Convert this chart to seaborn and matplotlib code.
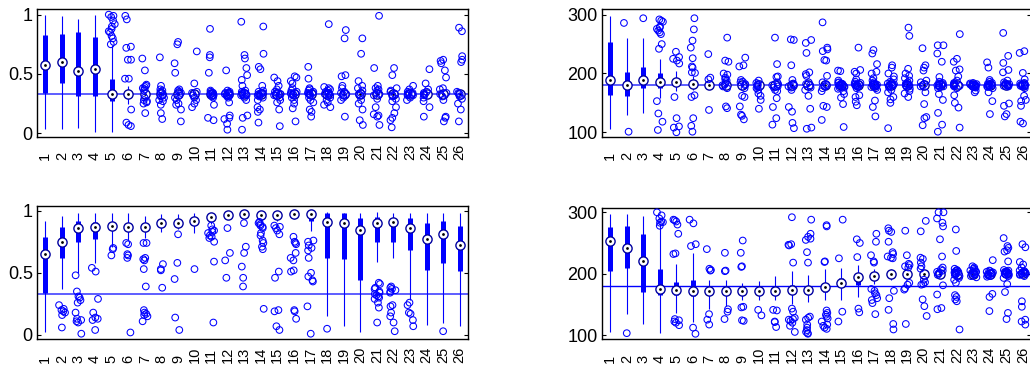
import numpy as np
import pandas as pd
import matplotlib
matplotlib.use("Agg")
import matplotlib.pyplot as plt
import seaborn as sns

sns.set_theme(style="white")
plt.rcParams["font.family"] = ["Liberation Sans", "DejaVu Sans"]

labels = ["1", "2", "3", "4", "5", "6", "7", "8", "9", "10", "11", "12", "13",
          "14", "15", "16", "17", "18", "19", "20", "21", "22", "23", "24", "25", "26"]

# ---- panel A (top left): fractions ----
a_ref = 0.333
a_med = [0.576, 0.600, 0.528, 0.542, 0.333, 0.333, 0.333, 0.333, 0.333, 0.333, 0.333, 0.333, 0.333,
         0.333, 0.333, 0.333, 0.333, 0.333, 0.333, 0.333, 0.333, 0.333, 0.333, 0.333, 0.333, 0.333]
a_q1 = [0.343, 0.427, 0.317, 0.310, 0.268, 0.320, 0.333, 0.333, 0.333, 0.333, 0.333, 0.333, 0.333,
        0.333, 0.333, 0.333, 0.333, 0.333, 0.333, 0.333, 0.333, 0.333, 0.333, 0.333, 0.333, 0.333]
a_q3 = [0.830, 0.840, 0.854, 0.810, 0.455, 0.350, 0.333, 0.333, 0.333, 0.333, 0.333, 0.333, 0.333,
        0.333, 0.333, 0.333, 0.333, 0.333, 0.333, 0.333, 0.333, 0.333, 0.333, 0.333, 0.333, 0.333]
a_lo = [0.034, 0.034, 0.045, 0.011, 0.014, 0.250, 0.333, 0.333, 0.333, 0.333, 0.333, 0.333, 0.333,
        0.333, 0.333, 0.333, 0.333, 0.333, 0.333, 0.333, 0.333, 0.333, 0.333, 0.333, 0.333, 0.333]
a_hi = [1.000, 0.990, 0.966, 1.000, 0.740, 0.400, 0.333, 0.333, 0.333, 0.333, 0.333, 0.333, 0.333,
        0.333, 0.333, 0.333, 0.333, 0.333, 0.333, 0.333, 0.333, 0.333, 0.333, 0.333, 0.333, 0.333]
a_out = [
    [], [], [], [],
    [1.0, 0.99, 0.98, 0.95, 0.92, 0.90, 0.88, 0.86, 0.85, 0.82, 0.80, 0.77, 0.75],
    [0.99, 0.96, 0.73, 0.72, 0.62, 0.62, 0.46, 0.46, 0.20, 0.09, 0.07, 0.06],
    [0.63, 0.53, 0.41, 0.40, 0.39, 0.38, 0.37, 0.36, 0.30, 0.28, 0.27, 0.26, 0.25, 0.17],
    [0.64, 0.40, 0.37, 0.36, 0.35, 0.34, 0.32, 0.31, 0.30, 0.28, 0.27, 0.24, 0.17, 0.12],
    [0.77, 0.75, 0.59, 0.51, 0.37, 0.36, 0.35, 0.34, 0.32, 0.30, 0.28, 0.25, 0.24, 0.20, 0.10],
    [0.69, 0.42, 0.35, 0.34, 0.32, 0.30, 0.28, 0.25, 0.22],
    [0.88, 0.66, 0.64, 0.51, 0.36, 0.35, 0.34, 0.34, 0.33, 0.33, 0.32, 0.32, 0.31, 0.30, 0.24, 0.13, 0.11],
    [0.53, 0.36, 0.35, 0.34, 0.34, 0.33, 0.33, 0.32, 0.32, 0.31, 0.30, 0.26, 0.15, 0.13, 0.12, 0.08, 0.03],
    [0.94, 0.66, 0.63, 0.55, 0.49, 0.45, 0.40, 0.36, 0.35, 0.34, 0.34, 0.33, 0.33, 0.32, 0.32, 0.30, 0.28, 0.15, 0.13, 0.03],
    [0.90, 0.67, 0.56, 0.54, 0.40, 0.36, 0.35, 0.34, 0.34, 0.33, 0.33, 0.32, 0.31, 0.30, 0.28, 0.22, 0.20, 0.18, 0.09],
    [0.47, 0.44, 0.40, 0.37, 0.35, 0.34, 0.34, 0.33, 0.33, 0.32, 0.32, 0.30, 0.28, 0.26, 0.20, 0.06],
    [0.48, 0.47, 0.44, 0.42, 0.38, 0.36, 0.35, 0.34, 0.34, 0.33, 0.33, 0.32, 0.30, 0.28, 0.25, 0.21, 0.10],
    [0.56, 0.46, 0.38, 0.37, 0.36, 0.35, 0.34, 0.34, 0.33, 0.33, 0.32, 0.30, 0.28, 0.26, 0.20, 0.18, 0.14],
    [0.92, 0.39, 0.38, 0.37, 0.36, 0.35, 0.34, 0.34, 0.33, 0.33, 0.32, 0.30, 0.28, 0.26, 0.24, 0.22],
    [0.87, 0.80, 0.49, 0.48, 0.40, 0.38, 0.35, 0.34, 0.33, 0.32, 0.30, 0.28, 0.14],
    [0.80, 0.67, 0.44, 0.40, 0.38, 0.36, 0.34, 0.33, 0.32, 0.28, 0.25, 0.20, 0.11, 0.07],
    [0.99, 0.55, 0.40, 0.38, 0.37, 0.36, 0.34, 0.33, 0.32, 0.29, 0.22, 0.16, 0.15, 0.14, 0.07],
    [0.55, 0.49, 0.38, 0.36, 0.35, 0.33, 0.32, 0.31, 0.29, 0.27, 0.22, 0.17, 0.13, 0.11, 0.05],
    [0.40, 0.37, 0.35, 0.34, 0.34, 0.33, 0.33, 0.32, 0.32, 0.30, 0.28],
    [0.54, 0.42, 0.37, 0.35, 0.34, 0.33, 0.33, 0.32, 0.30, 0.27, 0.22, 0.14],
    [0.62, 0.61, 0.59, 0.53, 0.47, 0.38, 0.37, 0.34, 0.33, 0.31, 0.28, 0.14, 0.13, 0.10],
    [0.89, 0.86, 0.65, 0.62, 0.60, 0.35, 0.34, 0.33, 0.31, 0.29, 0.25, 0.20, 0.10],
]

# ---- panel B (top right): durations ----
b_ref = 180
b_med = [189, 180, 189, 186, 185, 182, 181, 180, 180, 180, 180, 180, 180,
         180, 180, 180, 180, 180, 180, 180, 180, 180, 180, 180, 180, 180]
b_q1 = [164, 162, 175, 175, 180, 178, 180, 180, 180, 180, 180, 180, 180,
        180, 180, 180, 180, 180, 180, 180, 180, 180, 180, 180, 180, 180]
b_q3 = [254, 202, 211, 200, 192, 187, 182, 180, 180, 180, 180, 180, 180,
        180, 180, 180, 180, 180, 180, 180, 180, 180, 180, 180, 180, 180]
b_lo = [105, 129, 133, 159, 170, 172, 180, 180, 180, 180, 180, 180, 180,
        180, 180, 180, 180, 180, 180, 180, 180, 180, 180, 180, 180, 180]
b_hi = [298, 260, 260, 224, 205, 195, 183, 180, 180, 180, 180, 180, 180,
        180, 180, 180, 180, 180, 180, 180, 180, 180, 180, 180, 180, 180]
b_out = [
    [], [286, 101], [294],
    [292, 290, 288, 280, 278, 276, 273, 270, 267, 250, 242, 153, 132, 118, 104],
    [237, 228, 225, 222, 217, 160, 124, 110, 108, 100],
    [294, 275, 256, 244, 226, 212, 210, 202, 201, 163, 160, 124, 111, 101],
    [233, 193, 190, 138],
    [261, 222, 220, 200, 198, 193, 190, 188, 185, 182, 180, 178, 175, 144, 141],
    [227, 214, 212, 189, 186, 185, 182, 180, 175, 162, 160, 144, 130, 128, 122],
    [188, 184, 182, 180, 178, 175, 172, 166, 162, 155, 140],
    [261, 216, 195, 194, 185, 182, 180, 178, 176, 172, 170, 158, 143, 124, 113],
    [258, 257, 214, 189, 183, 181, 180, 178, 176, 172, 143, 135, 116, 107],
    [257, 252, 235, 202, 199, 196, 185, 182, 180, 176, 172, 162, 140, 108, 106],
    [287, 244, 241, 238, 223, 222, 196, 185, 182, 180, 178, 175, 170, 145, 143, 121],
    [205, 204, 188, 185, 184, 183, 182, 181, 180, 180, 179, 178, 177, 176, 174, 170, 165, 159, 148, 109],
    [244, 206, 203, 200, 190, 186, 184, 183, 182, 181, 180, 180, 179, 178, 177, 175, 163, 160, 152, 146],
    [240, 234, 216, 203, 200, 192, 188, 185, 183, 182, 181, 180, 180, 179, 178, 177, 175, 172, 154, 143, 127],
    [214, 210, 200, 195, 190, 186, 184, 183, 182, 181, 180, 180, 179, 178, 176, 172, 168, 160, 156, 150, 107],
    [278, 264, 208, 200, 196, 192, 188, 185, 183, 182, 181, 180, 179, 177, 174, 170, 166, 160],
    [243, 214, 210, 205, 188, 185, 182, 180, 178, 168, 148, 126, 124, 112],
    [248, 248, 234, 220, 194, 186, 184, 183, 182, 181, 180, 180, 179, 178, 177, 175, 165, 155, 133, 113, 101],
    [267, 225, 220, 207, 205, 195, 188, 184, 183, 182, 181, 180, 180, 179, 178, 175, 163, 150, 142, 108],
    [184, 183, 182, 181, 181, 180, 180, 179, 179, 178, 177, 176, 171, 168],
    [219, 210, 189, 186, 184, 183, 182, 181, 180, 180, 179, 178, 177, 175, 168, 153, 131],
    [269, 230, 218, 206, 202, 188, 185, 183, 182, 181, 180, 180, 179, 178, 149, 145, 131, 127],
    [238, 235, 201, 190, 184, 183, 182, 181, 180, 180, 179, 178, 175, 162, 155, 153, 145, 118, 115],
]

# ---- panel C (bottom left): fractions ----
c_ref = 0.333
c_med = [0.650, 0.745, 0.860, 0.870, 0.877, 0.870, 0.870, 0.900, 0.898, 0.920, 0.946, 0.965, 0.973,
         0.962, 0.967, 0.970, 0.970, 0.910, 0.898, 0.845, 0.898, 0.905, 0.860, 0.770, 0.810, 0.725]
c_q1 = [0.340, 0.617, 0.745, 0.770, 0.845, 0.850, 0.850, 0.880, 0.880, 0.900, 0.920, 0.950, 0.960,
        0.940, 0.950, 0.960, 0.920, 0.617, 0.610, 0.440, 0.750, 0.745, 0.680, 0.520, 0.580, 0.515]
c_q3 = [0.790, 0.866, 0.920, 0.910, 0.910, 0.900, 0.890, 0.920, 0.920, 0.940, 0.960, 0.975, 0.980,
        0.975, 0.975, 0.980, 0.980, 0.980, 0.980, 0.940, 0.950, 0.940, 0.940, 0.900, 0.920, 0.877]
c_lo = [0.020, 0.367, 0.500, 0.580, 0.710, 0.760, 0.780, 0.830, 0.850, 0.820, 0.890, 0.930, 0.940,
        0.920, 0.920, 0.930, 0.840, 0.150, 0.070, 0.020, 0.590, 0.620, 0.280, 0.080, 0.094, 0.070]
c_hi = [0.920, 0.957, 0.980, 0.980, 0.980, 0.980, 0.957, 0.970, 0.970, 0.980, 0.980, 0.990, 0.990,
        0.990, 0.990, 0.990, 0.990, 0.990, 0.985, 0.980, 0.990, 0.980, 0.985, 0.980, 0.980, 0.980]
c_out = [
    [],
    [0.24, 0.21, 0.20, 0.19, 0.18, 0.16, 0.06],
    [0.48, 0.35, 0.31, 0.30, 0.28, 0.26, 0.18, 0.13, 0.12, 0.11, 0.10, 0.01],
    [0.54, 0.51, 0.29, 0.18, 0.14, 0.13, 0.12, 0.04],
    [0.70, 0.69, 0.64],
    [0.74, 0.73, 0.65, 0.64, 0.62, 0.02],
    [0.74, 0.74, 0.62, 0.61, 0.60, 0.53, 0.39, 0.20, 0.18, 0.17, 0.16, 0.15, 0.11],
    [0.57, 0.53, 0.52, 0.38],
    [0.81, 0.58, 0.45, 0.14, 0.04],
    [0.53],
    [0.88, 0.85, 0.84, 0.83, 0.82, 0.80, 0.79, 0.78, 0.75, 0.59, 0.10],
    [0.86, 0.66, 0.60, 0.46],
    [0.90, 0.71, 0.66, 0.55, 0.46, 0.39],
    [0.91, 0.90, 0.89, 0.88, 0.87, 0.86, 0.82, 0.80, 0.76, 0.74, 0.71, 0.69, 0.21],
    [0.88, 0.87, 0.86, 0.84, 0.81, 0.51, 0.46, 0.20, 0.19, 0.07, 0.04],
    [0.79, 0.75, 0.74, 0.73, 0.66, 0.62, 0.60, 0.52, 0.51, 0.20, 0.19, 0.13],
    [0.76, 0.75, 0.72, 0.70, 0.68, 0.62, 0.50, 0.47, 0.44, 0.43, 0.23, 0.01],
    [0.05],
    [], [],
    [0.42, 0.41, 0.38, 0.37, 0.35, 0.34, 0.33, 0.32, 0.31, 0.30, 0.29, 0.26, 0.22, 0.10],
    [0.39, 0.38, 0.37, 0.36, 0.35, 0.34, 0.24, 0.23, 0.18, 0.15, 0.10, 0.03],
    [0.26, 0.24, 0.18, 0.17, 0.12, 0.07],
    [],
    [0.03],
    [],
]

# ---- panel D (bottom right): durations ----
d_ref = 180
d_med = [254, 242, 221, 175, 174, 172, 171, 172, 172, 172, 172, 173, 174,
         179, 184, 195, 196, 200, 200, 200, 200, 200, 200, 200, 201, 201]
d_q1 = [204, 209, 170, 165, 165, 164, 165, 166, 168, 168, 168, 168, 168,
        170, 178, 182, 190, 195, 195, 200, 200, 200, 200, 200, 201, 201]
d_q3 = [276, 277, 264, 208, 186, 189, 176, 176, 175, 175, 175, 182, 178,
        181, 193, 197, 200, 202, 202, 200, 200, 200, 200, 200, 201, 201]
d_lo = [105, 134, 118, 103, 136, 121, 143, 147, 157, 157, 157, 151, 154,
        157, 157, 162, 183, 190, 195, 198, 198, 198, 198, 198, 199, 199]
d_hi = [298, 298, 294, 281, 216, 233, 189, 189, 185, 188, 196, 205, 197,
        207, 210, 214, 208, 208, 205, 203, 203, 203, 203, 203, 203, 203]
d_out = [
    [], [103], [],
    [300, 295, 290, 285, 284, 283, 278],
    [288, 287, 285, 280, 265, 233, 232, 126, 124, 122, 120, 116],
    [288, 282, 248, 245, 112, 102],
    [240, 208, 206, 205, 134, 125, 117],
    [234, 205, 204, 142, 138, 126],
    [254, 234, 212, 211, 146, 145, 124, 123],
    [141, 132],
    [141, 140, 122, 121, 113],
    [292, 248, 247, 246, 218, 143, 138, 128, 126, 125, 123, 120, 115, 105],
    [288, 265, 260, 257, 255, 235, 218, 130, 128, 125, 117, 112, 108, 105, 103, 102],
    [279, 277, 220, 219, 140, 136, 133, 130, 127, 122, 117, 115, 112, 110],
    [288, 225, 138, 122],
    [256, 250, 227, 143, 137],
    [265, 252, 230, 220, 218, 175, 172, 168, 165, 160, 157, 152, 134],
    [274, 270, 268, 252, 235, 232, 228, 226, 225, 172, 160, 141, 118, 109],
    [270, 230, 216, 214, 212, 210, 185, 182, 176, 174, 118],
    [286, 269, 226, 224, 218, 212, 208, 190, 186, 183, 182, 158, 147, 131],
    [300, 300, 290, 283, 277, 256, 228, 210, 207, 205, 203, 201, 200, 198, 181, 166, 144, 142],
    [272, 237, 208, 206, 205, 204, 203, 202, 201, 200, 199, 198, 196, 193, 190, 185, 165, 162, 158, 155, 109],
    [212, 210, 208, 206, 205, 204, 203, 202, 201, 200, 199, 198, 196, 194],
    [222, 205, 204, 203, 202, 201, 200, 200, 199, 198, 197, 196, 195, 167, 162, 139],
    [258, 245, 242, 238, 236, 220, 206, 205, 204, 203, 202, 201, 200, 200, 199, 198, 196, 193, 183, 170, 136, 126],
    [248, 243, 219, 215, 210, 205, 204, 203, 202, 201, 200, 200, 199, 198, 196, 155, 146, 125, 122, 117],
]

BLUE = "#0000ff"
W, H = 1030, 372
fig = plt.figure(figsize=(W / 100, H / 100), dpi=100)


def add_ax(x0, y0, x1, y1):
    return fig.add_axes([x0 / W, 1 - y1 / H, (x1 - x0) / W, (y1 - y0) / H])


def compact_box(ax, med, q1, q3, lo, hi, out, ref, ylim, yticks, yticklabels,
                ref_color, ref_lw):
    rows = [(labels[i], v) for i, vals in enumerate(out) for v in vals]
    df = pd.DataFrame(rows, columns=["group", "value"])
    np.random.seed(7)
    sns.stripplot(data=df, x="group", y="value", order=labels, jitter=0.2,
                  size=4.8, color=BLUE, facecolor="none", edgecolor=BLUE,
                  linewidth=0.75, ax=ax, zorder=4)
    pos = np.arange(len(labels))
    ax.axhline(ref, color=ref_color, lw=ref_lw, zorder=1.5)
    ax.vlines(pos, lo, hi, color=BLUE, lw=0.8, zorder=2, capstyle="butt")
    ax.vlines(pos, q1, q3, color=BLUE, lw=3.6, zorder=2.2, capstyle="butt")
    ax.scatter(pos, med, s=44, facecolor="white", edgecolor="#0000a0",
               linewidth=1.0, zorder=3)
    ax.scatter(pos, med, s=4, color="black", linewidth=0, zorder=3.1)

    ax.set_xlim(-0.5, len(labels) - 0.5)
    ax.set_ylim(*ylim)
    ax.set_yticks(yticks)
    ax.set_yticklabels(yticklabels)
    ax.set_xlabel("")
    ax.set_ylabel("")
    ax.grid(False)
    for sp in ax.spines.values():
        sp.set_visible(True)
        sp.set_color("black")
        sp.set_linewidth(1.0)
    ax.tick_params(axis="y", direction="in", left=True, right=True, length=3,
                   width=0.8, color="black", labelsize=13, pad=3,
                   labelcolor="black")
    ax.tick_params(axis="x", length=0, pad=17.0, labelsize=10.5,
                   labelcolor="black")
    for lab in ax.get_xticklabels():
        lab.set_rotation(90)
        lab.set_rotation_mode("anchor")
        lab.set_ha("left")
        lab.set_va("center")


ax_a = add_ax(37, 9.3, 468, 136.7)
compact_box(ax_a, a_med, a_q1, a_q3, a_lo, a_hi, a_out, a_ref,
            (-0.029, 1.045), [0, 0.5, 1], ["0", "0.5", "1"], "#5050ff", 1.3)

ax_b = add_ax(602, 9.3, 1031, 136.7)
compact_box(ax_b, b_med, b_q1, b_q3, b_lo, b_hi, b_out, b_ref,
            (92.5, 309.2), [100, 200, 300], ["100", "200", "300"], "#5050ff", 1.3)

ax_c = add_ax(37, 205.7, 468, 339.3)
compact_box(ax_c, c_med, c_q1, c_q3, c_lo, c_hi, c_out, c_ref,
            (-0.035, 1.040), [0, 0.5, 1], ["0", "0.5", "1"], "#5050ff", 1.3)

ax_d = add_ax(602, 207.7, 1031, 339.3)
compact_box(ax_d, d_med, d_q1, d_q3, d_lo, d_hi, d_out, d_ref,
            (93.0, 307.5), [100, 200, 300], ["100", "200", "300"], BLUE, 1.0)

fig.savefig("out.png", dpi=100, facecolor="white")
